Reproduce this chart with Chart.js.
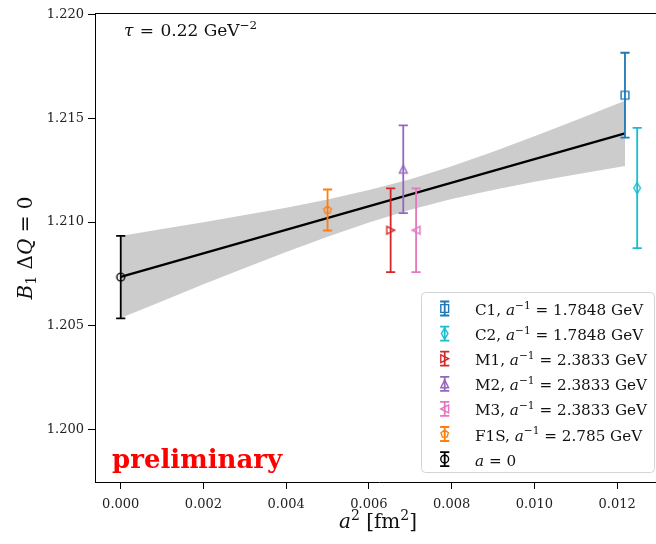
<!DOCTYPE html>
<html><head><meta charset="utf-8">
<script src="https://cdn.jsdelivr.net/npm/chart.js@4.4.1/dist/chart.umd.min.js"></script>
<style>
html,body{margin:0;padding:0;background:#fff;overflow:hidden}
#wrap{width:656px;height:544px;overflow:hidden;position:relative;background:#fff}
canvas{display:block}
</style>
</head><body>
<div id="wrap"><canvas id="c" width="670" height="544" style="width:670px;height:544px"></canvas></div>
<script>
// ---------------- data ----------------
const seriesLabels   = ['C1', 'C2', 'M1', 'M2', 'M3', 'F1S', 'a = 0'];
const inverseSpacing = ['1.7848', '1.7848', '2.3833', '2.3833', '2.3833', '2.785', null];
const aSquared       = [0.01219, 0.012485, 0.006525, 0.00683, 0.00714, 0.00500, 0];
const centralValue   = [1.21612, 1.21164, 1.20960, 1.21255, 1.20960, 1.21058, 1.20734];
const errorValue     = [0.00205, 0.00290, 0.00202, 0.00212, 0.00202, 0.00099, 0.00199];
const seriesColors   = ['#1f77b4', '#17becf', '#d62728', '#9467bd', '#e377c2', '#ff7f0e', '#000000'];
const seriesMarkers  = ['square', 'thinDiamond', 'triangleRight', 'triangleUp', 'triangleLeft', 'pentagon', 'circle'];

const fitX = [0, 0.01219];
const fitY = [1.20735, 1.21428];

const bandX     = [0, 0.001, 0.002, 0.003, 0.004, 0.005, 0.006, 0.007, 0.008, 0.009, 0.010, 0.011, 0.01219];
const bandUpper = [1.20933, 1.20966, 1.20999, 1.21034, 1.21069, 1.21109, 1.21154, 1.21207, 1.21269, 1.21339, 1.21414, 1.21491, 1.21586];
const bandLower = [1.20537, 1.20618, 1.20699, 1.20778, 1.20855, 1.20929, 1.20998, 1.21059, 1.21111, 1.21155, 1.21194, 1.21229, 1.21270];

const xTicks = [0.000, 0.002, 0.004, 0.006, 0.008, 0.010, 0.012];
const yTicks = [1.200, 1.205, 1.210, 1.215, 1.220];

// ---------------- styling helpers ----------------
const FAM = '"DejaVu Serif", serif';
const MS = 7.8;          // marker size
const MLW = 1.4;         // marker line width
const EB_LW = 1.8;       // error bar width
const CAP = 4.6;         // cap half width

function tracePath(g, shape, ms) {
  const h = ms / 2;
  g.beginPath();
  switch (shape) {
    case 'square': g.rect(-h, -h, ms, ms); break;
    case 'circle': g.arc(0, 0, h, 0, Math.PI * 2); break;
    case 'thinDiamond': { const dy = ms * 0.707, dx = dy * 0.6;
      g.moveTo(0, -dy); g.lineTo(dx, 0); g.lineTo(0, dy); g.lineTo(-dx, 0); g.closePath(); break; }
    case 'triangleUp': g.moveTo(0, -h); g.lineTo(h, h); g.lineTo(-h, h); g.closePath(); break;
    case 'triangleRight': g.moveTo(h, 0); g.lineTo(-h, -h); g.lineTo(-h, h); g.closePath(); break;
    case 'triangleLeft': g.moveTo(-h, 0); g.lineTo(h, -h); g.lineTo(h, h); g.closePath(); break;
    case 'pentagon':
      for (let k = 0; k < 5; k++) {
        const a = -Math.PI / 2 + k * 2 * Math.PI / 5;
        const px = Math.cos(a) * h, py = Math.sin(a) * h;
        if (k === 0) g.moveTo(px, py); else g.lineTo(px, py);
      }
      g.closePath(); break;
  }
}
function makeMarker(shape, color) {
  const S = 16, c = document.createElement('canvas');
  c.width = S; c.height = S;
  const g = c.getContext('2d');
  g.translate(S / 2, S / 2);
  tracePath(g, shape, MS);
  g.lineWidth = MLW; g.strokeStyle = color; g.stroke();
  return c;
}
const markerCanvases = seriesMarkers.map((m, i) => makeMarker(m, seriesColors[i]));

function drawRich(ctx, runs, x, y, size, align) {
  const pieces = runs.map(r => {
    const s = (r.sup || r.sub) ? size * 0.7 : size;
    const font = (r.it ? 'italic ' : '') + (r.b ? 'bold ' : '') + s + 'px ' + FAM;
    ctx.font = font;
    const w = ctx.measureText(r.t).width;
    const dy = r.sup ? -size * 0.42 : (r.sub ? size * 0.2 : 0);
    return { t: r.t, font, w, dy, gap: r.gap || 0 };
  });
  const total = pieces.reduce((s, p) => s + p.w + p.gap, 0);
  let cx = align === 'center' ? x - total / 2 : (align === 'right' ? x - total : x);
  ctx.textAlign = 'left'; ctx.textBaseline = 'alphabetic';
  pieces.forEach(p => { ctx.font = p.font; ctx.fillText(p.t, cx, y + p.dy); cx += p.w + p.gap; });
  return total;
}

// ---------------- plugins ----------------
const errorBarPlugin = {
  id: 'errorBars',
  afterDatasetsDraw(chart) {
    const { ctx, scales: { x, y } } = chart;
    ctx.save();
    ctx.lineWidth = EB_LW;
    seriesLabels.forEach((_, i) => {
      const px = x.getPixelForValue(aSquared[i]);
      const top = y.getPixelForValue(centralValue[i] + errorValue[i]);
      const bot = y.getPixelForValue(centralValue[i] - errorValue[i]);
      ctx.strokeStyle = seriesColors[i];
      ctx.beginPath();
      ctx.moveTo(px, top); ctx.lineTo(px, bot);
      ctx.moveTo(px - CAP, top); ctx.lineTo(px + CAP, top);
      ctx.moveTo(px - CAP, bot); ctx.lineTo(px + CAP, bot);
      ctx.stroke();
    });
    ctx.restore();
  }
};

const decorPlugin = {
  id: 'decor',
  afterDraw(chart) {
    const { ctx, chartArea: ca } = chart;
    ctx.save();
    // top spine
    ctx.strokeStyle = '#000'; ctx.lineWidth = 1;
    ctx.beginPath(); ctx.moveTo(ca.left, Math.round(ca.top) + 0.5); ctx.lineTo(ca.right, Math.round(ca.top) + 0.5); ctx.stroke();

    ctx.fillStyle = '#111';
    // tau annotation
    drawRich(ctx, [{ t: 'τ', it: true, gap: 1 }, { t: ' = ', gap: 1 }, { t: '0.22 GeV' }, { t: '−2', sup: true }], 124, 36, 17, 'left');

    // preliminary
    ctx.fillStyle = '#ff0000';
    ctx.font = 'bold 26px ' + FAM;
    ctx.textAlign = 'left'; ctx.textBaseline = 'alphabetic';
    ctx.fillText('preliminary', 112, 467.5);

    // axis titles
    ctx.fillStyle = '#111';
    drawRich(ctx, [{ t: 'a', it: true }, { t: '2', sup: true }, { t: ' [fm' }, { t: '2', sup: true }, { t: ']' }], 378, 528, 20, 'center');
    ctx.save();
    ctx.translate(31.5, 248);
    ctx.rotate(-Math.PI / 2);
    drawRich(ctx, [{ t: 'B', it: true }, { t: '1', sub: true }, { t: ' Δ' }, { t: 'Q', it: true }, { t: ' = 0' }], 0, 0, 20, 'center');
    ctx.restore();

    // legend
    const lx = 421.5, ly = 292.5, lw = 233, lh = 180, r = 4;
    ctx.beginPath();
    ctx.moveTo(lx + r, ly); ctx.lineTo(lx + lw - r, ly); ctx.arcTo(lx + lw, ly, lx + lw, ly + r, r);
    ctx.lineTo(lx + lw, ly + lh - r); ctx.arcTo(lx + lw, ly + lh, lx + lw - r, ly + lh, r);
    ctx.lineTo(lx + r, ly + lh); ctx.arcTo(lx, ly + lh, lx, ly + lh - r, r);
    ctx.lineTo(lx, ly + r); ctx.arcTo(lx, ly, lx + r, ly, r); ctx.closePath();
    ctx.fillStyle = 'rgba(255,255,255,0.85)'; ctx.fill();
    ctx.strokeStyle = '#d4d4d4'; ctx.lineWidth = 1; ctx.stroke();

    seriesLabels.forEach((lab, i) => {
      const cy = 309.5 + i * 25.1;
      const ix = 444.7, icy = cy - 1;
      ctx.strokeStyle = seriesColors[i]; ctx.lineWidth = EB_LW;
      ctx.beginPath();
      ctx.moveTo(ix, icy - 7); ctx.lineTo(ix, icy + 7);
      ctx.moveTo(ix - CAP, icy - 7); ctx.lineTo(ix + CAP, icy - 7);
      ctx.moveTo(ix - CAP, icy + 7); ctx.lineTo(ix + CAP, icy + 7);
      ctx.stroke();
      ctx.save(); ctx.translate(ix, icy); tracePath(ctx, seriesMarkers[i], MS);
      ctx.lineWidth = MLW; ctx.stroke(); ctx.restore();

      ctx.fillStyle = '#111';
      const runs = inverseSpacing[i] === null
        ? [{ t: 'a', it: true }, { t: ' = 0' }]
        : [{ t: lab + ', ' }, { t: 'a', it: true }, { t: '−1', sup: true }, { t: ' = ' + inverseSpacing[i] + ' GeV' }];
      drawRich(ctx, runs, 475, cy + 5.5, 15.2, 'left');
    });
    ctx.restore();
  }
};

// ---------------- chart ----------------
const tickFont = { family: FAM, size: 13 };
new Chart(document.getElementById('c'), {
  type: 'scatter',
  data: {
    datasets: [
      ...seriesLabels.map((lab, i) => ({
        label: lab,
        data: [{ x: aSquared[i], y: centralValue[i] }],
        pointStyle: markerCanvases[i],
        pointRadius: 4,
        order: 0
      })),
      { type: 'line', label: 'fit', data: fitX.map((x, i) => ({ x, y: fitY[i] })),
        borderColor: '#000', borderWidth: 2.2, pointRadius: 0, fill: false, order: 1 },
      { type: 'line', label: 'band upper', data: bandX.map((x, i) => ({ x, y: bandUpper[i] })),
        borderWidth: 0, borderColor: 'rgba(0,0,0,0)', pointRadius: 0, fill: '+1', backgroundColor: '#cccccc', order: 2 },
      { type: 'line', label: 'band lower', data: bandX.map((x, i) => ({ x, y: bandLower[i] })),
        borderWidth: 0, borderColor: 'rgba(0,0,0,0)', pointRadius: 0, fill: false, order: 3 }
    ]
  },
  options: {
    animation: false,
    responsive: false,
    events: [],
    layout: { padding: { top: 13, right: 7, left: 0, bottom: 0 } },
    plugins: { legend: { display: false }, tooltip: { enabled: false } },
    scales: {
      x: {
        type: 'linear', min: -0.000622, max: 0.013109,
        afterBuildTicks: ax => { ax.ticks = xTicks.map(v => ({ value: v })); },
        afterFit: ax => { ax.height = 62; },
        ticks: { callback: v => v.toFixed(3), font: tickFont, color: '#222', padding: 8, maxRotation: 0, autoSkip: false },
        grid: { drawOnChartArea: false, drawTicks: true, tickLength: 7, tickColor: '#000', tickWidth: 1 },
        border: { display: true, color: '#000', width: 1 }
      },
      y: {
        type: 'linear', min: 1.19745, max: 1.22009,
        afterBuildTicks: ax => { ax.ticks = yTicks.map(v => ({ value: v })); },
        afterFit: ax => { ax.width = 95; },
        ticks: { callback: v => v.toFixed(3), font: tickFont, color: '#222', padding: 4, autoSkip: false },
        grid: { drawOnChartArea: false, drawTicks: true, tickLength: 7, tickColor: '#000', tickWidth: 1 },
        border: { display: true, color: '#000', width: 1 }
      }
    }
  },
  plugins: [errorBarPlugin, decorPlugin]
});
</script>
</body></html>
